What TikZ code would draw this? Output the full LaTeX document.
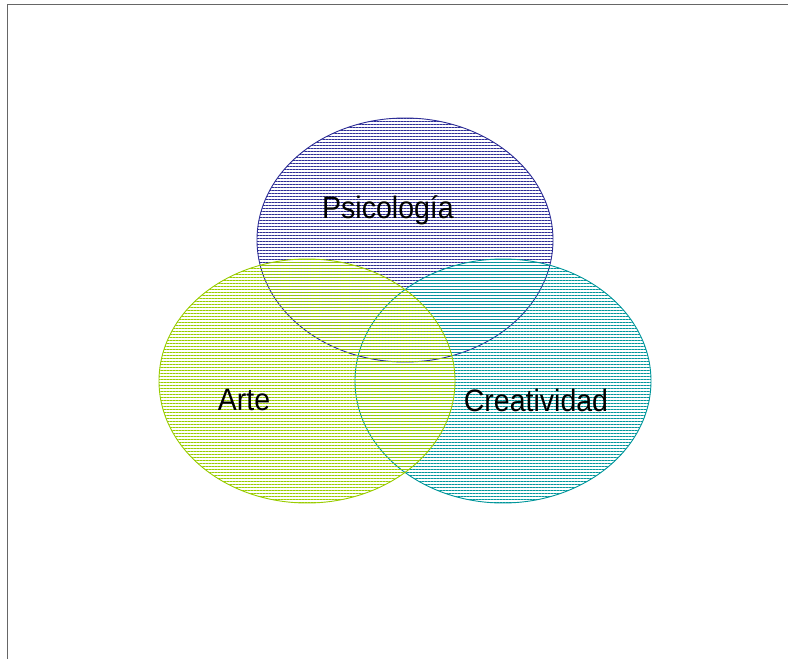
\documentclass[tikz,border=0pt]{standalone}
\usepackage{fontspec}
\setmainfont[FakeStretch=0.92]{Liberation Sans}
\usetikzlibrary{positioning,shapes.geometric,patterns.meta}
\definecolor{psicocol}{RGB}{45,45,150}
\definecolor{artecol}{RGB}{153,204,0}
\definecolor{creacol}{RGB}{0,150,155}
\tikzstyle{setnode}=[ellipse, minimum width=296pt, minimum height=244pt, inner sep=0pt, line width=0.9pt]
\tikzstyle{setlabel}=[font=\fontsize{31}{34}\selectfont, text=black, inner sep=0pt]

\begin{document}
\begin{tikzpicture}[x=1pt,y=-1pt]
\useasboundingbox (0,0) rectangle (788,659);
%Frame
\draw[gray!80!black, line width=1.4pt] (7.5,659) -- (7.5,4.5) -- (788,4.5);
%Sets
\node[setnode, draw=psicocol, pattern={Lines[angle=0,distance=3pt,line width=1pt]}, pattern color=psicocol] (psico) at (405,240) {};
\node[setnode, draw=creacol, pattern={Lines[angle=0,distance=3pt,line width=1pt]}, pattern color=creacol] (crea) at (503,381) {};
\node[setnode, draw=artecol, pattern={Lines[angle=0,distance=3pt,line width=1pt]}, pattern color=artecol] (arte) at (307,381) {};
%Labels
\node[setlabel] (psicotxt) at (388,210) {Psicología};
\node[setlabel] (artetxt) at (244,400) {Arte};
\node[setlabel] (creatxt) at (536,400) {Creatividad};
\end{tikzpicture}
\end{document}
